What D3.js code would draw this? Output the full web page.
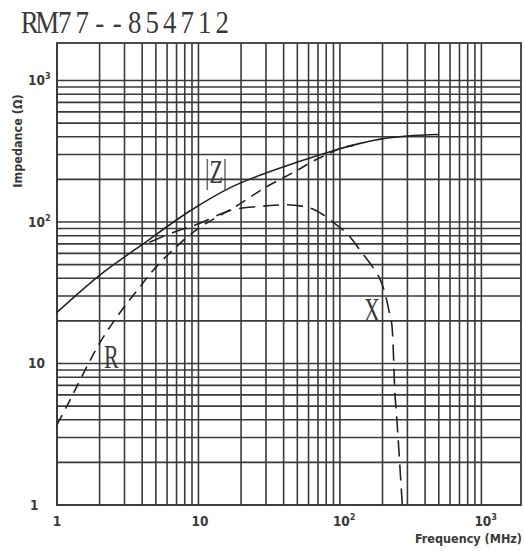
<!DOCTYPE html>
<html>
<head>
<meta charset="utf-8">
<script src="https://cdn.jsdelivr.net/npm/d3@7"></script>
<style>
  body { margin: 0; background: #fff; }
  svg text { fill: #3a3a3a; }
  .tick-label { font-family: "DejaVu Sans Condensed", "DejaVu Sans"; font-stretch: condensed; font-weight: bold; font-size: 13.5px; }
  .axis-title { font-family: "DejaVu Sans Condensed", "DejaVu Sans"; font-stretch: condensed; font-weight: bold; font-size: 12.5px; }
  .curve-label { font-family: "Liberation Serif", serif; font-size: 22px; }
</style>
</head>
<body>
<div id="chart"></div>
<script>
// |Z| (solid)
const zFreq = [1, 2, 3.9, 8.75, 16.8, 30, 50, 85, 118, 193, 300, 500];
const zVals = [23, 42, 68, 120, 175, 222, 265, 314, 345, 385, 405, 415];

// R (dashed)
const rFreq = [1, 1.15, 2, 2.8, 3.7, 5.1, 8.3, 11, 17.7, 30.5, 50, 65, 105, 125];
const rVals = [3.7, 4.8, 13.9, 23, 33, 49, 78, 96, 126, 178, 232, 270, 335, 348];

// X (long dashes)
const xFreq = [4.5, 7, 10, 17, 30, 44.6, 62, 76.6, 95, 112, 139, 193, 227, 233, 245, 250, 276];
const xVals = [72, 86, 97, 121, 130, 132, 125, 112, 95, 83, 63, 39, 21.4, 18.7, 6, 4.7, 1];

const xTicks = [1, 10, 100, 1000];
const xTickText = ['1', '10', '10|2', '10|3'];
const yTicks = [1, 10, 100, 1000];
const yTickText = ['1', '10', '10|2', '10|3'];

const W = 525, H = 551;
const pLeft = 57, pRight = 521, pTop = 43, pBottom = 505;

const svg = d3.select('#chart').append('svg')
  .attr('width', W)
  .attr('height', H);

const x = d3.scaleLog().domain([1, Math.pow(10, 3.28)]).range([pLeft, pRight]);
const y = d3.scaleLog().domain([1, Math.pow(10, 3.265)]).range([pBottom, pTop]);

// grid: every 1..9 in each decade
const gridVals = [];
for (let e = 0; e < 4; e++) {
  for (let m = 1; m < 10; m++) gridVals.push(m * Math.pow(10, e));
}
const gx = gridVals.filter(v => x(v) <= pRight);
const gy = gridVals.filter(v => y(v) >= pTop);

const grid = svg.append('g').attr('stroke', '#3a3a3a').attr('stroke-width', 1.6);
grid.selectAll('.vg').data(gx).enter().append('line')
  .attr('x1', d => x(d)).attr('x2', d => x(d))
  .attr('y1', pTop).attr('y2', pBottom);
grid.selectAll('.hg').data(gy).enter().append('line')
  .attr('x1', pLeft).attr('x2', pRight)
  .attr('y1', d => y(d)).attr('y2', d => y(d));

svg.append('rect')
  .attr('x', pLeft).attr('y', pTop)
  .attr('width', pRight - pLeft).attr('height', pBottom - pTop)
  .attr('fill', 'none').attr('stroke', '#3a3a3a').attr('stroke-width', 1.8);

// tick labels
function tickText(sel, txt) {
  const parts = txt.split('|');
  sel.append('tspan').text(parts[0]);
  if (parts[1]) sel.append('tspan').attr('dy', -6).attr('font-size', 9).text(parts[1]);
}
xTicks.forEach((v, i) => {
  const t = svg.append('text').attr('class', 'tick-label')
    .attr('x', i === 0 ? x(v) : x(v) - 7).attr('y', 526)
    .attr('text-anchor', i === 0 ? 'middle' : 'start');
  tickText(t, xTickText[i]);
});
yTicks.forEach((v, i) => {
  const t = svg.append('text').attr('class', 'tick-label')
    .attr('x', i === 0 ? 30 : 28).attr('y', y(v) + 5);
  tickText(t, yTickText[i]);
});

svg.append('text').attr('class', 'axis-title')
  .attr('x', 522).attr('y', 543).attr('text-anchor', 'end')
  .text('Frequency (MHz)');
svg.append('text').attr('class', 'axis-title')
  .attr('transform', 'translate(22,141) rotate(-90)')
  .attr('text-anchor', 'middle')
  .text('Impedance (Ω)');

// title, typewriter-like: fixed pitch, narrow serif glyphs
const title = 'RM77--854712';
const pitch = 17.5, sx = 0.84;
svg.append('text')
  .attr('transform', `translate(21,33) scale(${sx},1)`)
  .attr('x', title.split('').map((c, i) => ((i + 0.5) * pitch / sx).toFixed(1)).join(' '))
  .attr('text-anchor', 'middle')
  .attr('font-family', '"Liberation Serif", serif')
  .attr('font-size', 32)
  .attr('fill', '#505050')
  .text(title);

// curves
const smooth = d3.line()
  .x(d => x(d[0]))
  .y(d => y(d[1]))
  .curve(d3.curveCatmullRom.alpha(0.5));

const curves = svg.append('g').attr('fill', 'none').attr('stroke', '#222').attr('stroke-width', 1.6);
curves.append('path')
  .datum(d3.zip(zFreq, zVals))
  .attr('d', smooth);
curves.append('path')
  .datum(d3.zip(rFreq, rVals))
  .attr('stroke-dasharray', '11 7')
  .attr('d', smooth);
curves.append('path')
  .datum(d3.zip(xFreq, xVals))
  .attr('stroke-dasharray', '16 8')
  .attr('d', smooth);

// curve labels (tall, narrow serif glyphs)
function curveLabel(px, py, txt) {
  svg.append('text').attr('class', 'curve-label')
    .attr('transform', `translate(${px},${py}) scale(1,1.5)`)
    .text(txt);
}
curveLabel(205, 183, '|Z|');
curveLabel(104, 368, 'R');
curveLabel(364, 321, 'X');
</script>
</body>
</html>
